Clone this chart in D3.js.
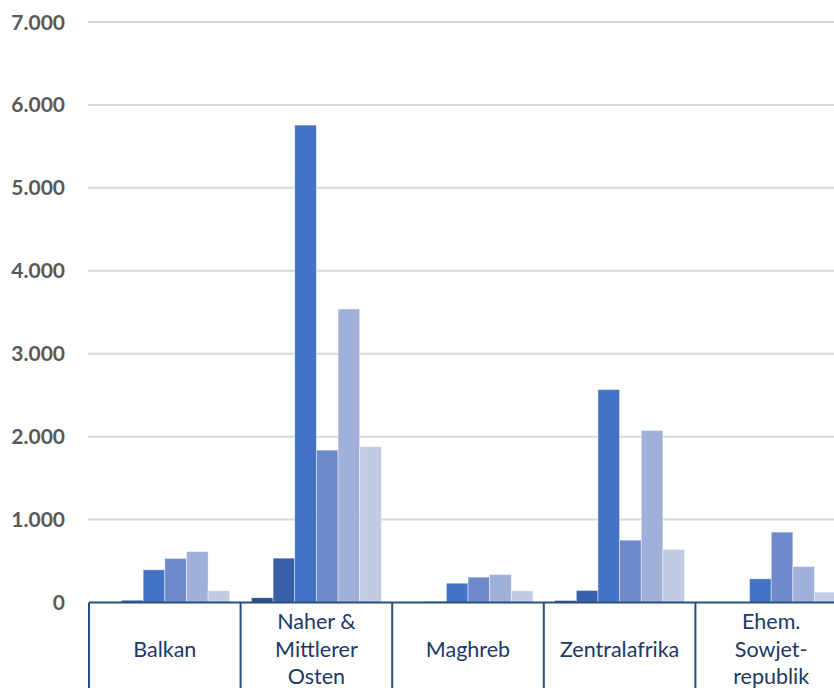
<!DOCTYPE html>
<html>
<head>
<meta charset="utf-8">
<script src="https://cdn.jsdelivr.net/npm/d3@7"></script>
<style>
  html, body { margin: 0; padding: 0; background: #fff; }
  svg { display: block; }
</style>
</head>
<body>
<div id="chart"></div>
<script>
const categories = [
  ['Balkan'],
  ['Naher &', 'Mittlerer', 'Osten'],
  ['Maghreb'],
  ['Zentralafrika'],
  ['Ehem.', 'Sowjet-', 'republik']
]
const seriesNames = ['Reihe 1', 'Reihe 2', 'Reihe 3', 'Reihe 4', 'Reihe 5', 'Reihe 6']
const balkan = [5, 28, 394, 531, 615, 141]
const nahost = [57, 535, 5757, 1838, 3540, 1879]
const maghreb = [0, 12, 233, 306, 338, 141]
const zentralafrika = [24, 145, 2567, 752, 2076, 640]
const sowjet = [0, 5, 286, 849, 434, 125]
const yTicks = [0, 1000, 2000, 3000, 4000, 5000, 6000, 7000]
const colors = ['#2E4C8C', '#3860AA', '#4472C4', '#6F8ACB', '#A0B0D9', '#C1CBE5']

const values = [balkan, nahost, maghreb, zentralafrika, sowjet]
const catKeys = categories.map(c => c.join(' '))

const width = 834, height = 688
const margin = { top: 22, left: 89 }
const bandW = 151.6
const plotRight = margin.left + bandW * categories.length
const y0 = 602.5

const svg = d3.select('#chart').append('svg')
  .attr('width', width)
  .attr('height', height)

const y = d3.scaleLinear().domain([0, 7000]).range([y0, margin.top])
const x0 = d3.scaleBand().domain(catKeys).range([margin.left, plotRight]).padding(0)
const x1 = d3.scaleBand().domain(seriesNames).range([0, x0.bandwidth()])
  .paddingInner(0).paddingOuter(0.5)

// gridlines
svg.append('g')
  .selectAll('line')
  .data(yTicks.filter(t => t > 0))
  .join('line')
  .attr('x1', margin.left - 1)
  .attr('x2', width)
  .attr('y1', d => y(d))
  .attr('y2', d => y(d))
  .attr('stroke', '#D9D9D9')
  .attr('stroke-width', 2)

// y labels
svg.append('g')
  .selectAll('text')
  .data(yTicks)
  .join('text')
  .attr('x', 65)
  .attr('y', d => y(d))
  .attr('dy', '0.36em')
  .attr('text-anchor', 'end')
  .attr('font-family', 'Lato, sans-serif')
  .attr('font-weight', 'bold')
  .attr('font-size', 21)
  .attr('fill', '#595959')
  .text(d => d3.format(',')(d).replace(/,/g, '.'))

// bars
const groups = svg.append('g')
  .selectAll('g')
  .data(values)
  .join('g')
  .attr('transform', (d, i) => `translate(${x0(catKeys[i])},0)`)

groups.selectAll('rect')
  .data(d => d.map((v, j) => ({ v, s: seriesNames[j], j })))
  .join('rect')
  .attr('x', d => x1(d.s))
  .attr('width', x1.bandwidth())
  .attr('y', d => y(d.v))
  .attr('height', d => y0 - y(d.v))
  .attr('fill', d => colors[d.j])
  .attr('stroke', '#ffffff')
  .attr('stroke-opacity', 0.6)
  .attr('stroke-width', 0.75)

// x axis line + table separators
const axisColor = '#27507F'
svg.append('line')
  .attr('x1', margin.left)
  .attr('x2', width)
  .attr('y1', y0)
  .attr('y2', y0)
  .attr('stroke', axisColor)
  .attr('stroke-width', 2)

svg.append('g')
  .selectAll('line')
  .data(catKeys)
  .join('line')
  .attr('x1', d => x0(d))
  .attr('x2', d => x0(d))
  .attr('y1', y0)
  .attr('y2', height)
  .attr('stroke', axisColor)
  .attr('stroke-width', 2)

// category labels
const lineH = 27.5
svg.append('g')
  .selectAll('text')
  .data(categories)
  .join('text')
  .attr('text-anchor', 'middle')
  .attr('font-family', 'Lato, sans-serif')
  .attr('font-size', 21.5)
  .attr('fill', '#203864')
  .each(function (lines, i) {
    const cx = x0(catKeys[i]) + x0.bandwidth() / 2
    const startY = 649 - (lines.length - 1) * lineH / 2
    d3.select(this).selectAll('tspan')
      .data(lines)
      .join('tspan')
      .attr('x', cx)
      .attr('y', (d, k) => startY + k * lineH)
      .attr('dy', '0.35em')
      .text(d => d)
  })
</script>
</body>
</html>
